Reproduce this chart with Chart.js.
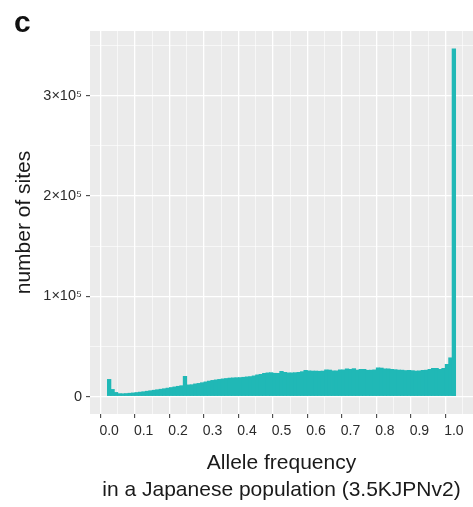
<!DOCTYPE html>
<html>
<head>
<meta charset="utf-8">
<script src="https://cdn.jsdelivr.net/npm/chart.js@4"></script>
<style>
  html, body { margin: 0; padding: 0; background: #fff; }
</style>
</head>
<body>
<canvas id="afChart" width="473" height="507"></canvas>
<script>
// bin centres of the allele-frequency histogram (width 0.01)
const binCenters = [
  0.00, 0.01, 0.02, 0.03, 0.04, 0.05, 0.06, 0.07, 0.08, 0.09,
  0.10, 0.11, 0.12, 0.13, 0.14, 0.15, 0.16, 0.17, 0.18, 0.19,
  0.20, 0.21, 0.22, 0.23, 0.24, 0.25, 0.26, 0.27, 0.28, 0.29,
  0.30, 0.31, 0.32, 0.33, 0.34, 0.35, 0.36, 0.37, 0.38, 0.39,
  0.40, 0.41, 0.42, 0.43, 0.44, 0.45, 0.46, 0.47, 0.48, 0.49,
  0.50, 0.51, 0.52, 0.53, 0.54, 0.55, 0.56, 0.57, 0.58, 0.59,
  0.60, 0.61, 0.62, 0.63, 0.64, 0.65, 0.66, 0.67, 0.68, 0.69,
  0.70, 0.71, 0.72, 0.73, 0.74, 0.75, 0.76, 0.77, 0.78, 0.79,
  0.80, 0.81, 0.82, 0.83, 0.84, 0.85, 0.86, 0.87, 0.88, 0.89,
  0.90, 0.91, 0.92, 0.93, 0.94, 0.95, 0.96, 0.97, 0.98, 0.99,
  1.00
];

// number of sites per bin
const siteCounts = [
  17500, 7500, 4500, 3300, 3200, 3400, 3700, 4000, 4400, 4800,
  5200, 5700, 6200, 6700, 7200, 7700, 8200, 8800, 9400, 10000,
  10600, 11200, 20500, 12000, 12200, 13000, 13500, 14200, 15000, 15800,
  16500, 17000, 17500, 18000, 18400, 18800, 19000, 19200, 19300, 19600,
  20000, 20300, 21000, 22000, 22500, 23500, 24000, 24200, 23600, 23500,
  25500, 24500, 24000, 24000, 24200, 24500, 25200, 26500, 26000, 25800,
  25800, 25600, 25800, 27000, 26800, 26000, 26000, 27000, 27000, 28000,
  27500, 28200, 26800, 27500, 27500, 26600, 26700, 27000, 29000, 28800,
  28000, 28000, 27500, 27200, 26800, 26700, 26300, 26500, 26200, 25800,
  26000, 26500, 26700, 27500, 28500, 28500, 27500, 28500, 32500, 39000,
  347000
];

const xTickValues = [0, 0.05, 0.1, 0.15, 0.2, 0.25, 0.3, 0.35, 0.4, 0.45, 0.5,
  0.55, 0.6, 0.65, 0.7, 0.75, 0.8, 0.85, 0.9, 0.95, 1.0];
const xTickLabels = ["0.0", "", "0.1", "", "0.2", "", "0.3", "", "0.4", "", "0.5",
  "", "0.6", "", "0.7", "", "0.8", "", "0.9", "", "1.0"];

const yTickValues = [0, 50000, 100000, 150000, 200000, 250000, 300000, 350000];
const yTickLabels = ["0", "", "1×10⁵", "", "2×10⁵", "", "3×10⁵", ""];

const barColor = "#20B8B6";
const panelColor = "#EBEBEB";
const fontFamily = "'Liberation Sans', Arial, Helvetica, sans-serif";

function isMajor(list, ctx) {
  if (!ctx.tick) return false;
  const i = list.indexOf(ctx.tick.value);
  return i >= 0 && i % 2 === 0;
}

const panelPlugin = {
  id: "panel",
  beforeDraw(chart) {
    const { ctx, chartArea } = chart;
    ctx.save();
    ctx.fillStyle = "#ffffff";
    ctx.fillRect(0, 0, chart.width, chart.height);
    ctx.fillStyle = panelColor;
    ctx.fillRect(chartArea.left, chartArea.top,
      chartArea.right - chartArea.left, chartArea.bottom - chartArea.top);
    ctx.restore();
  },
  afterDraw(chart) {
    const ctx = chart.ctx;
    ctx.save();
    ctx.fillStyle = "#111";
    ctx.font = "bold 30px " + fontFamily;
    ctx.textBaseline = "alphabetic";
    ctx.fillText("c", 14, 32);
    ctx.restore();
  },
};

const ctx = document.getElementById("afChart").getContext("2d");
new Chart(ctx, {
  type: "bar",
  data: {
    datasets: [
      {
        data: binCenters.map((x, i) => ({ x: x, y: siteCounts[i] })),
        backgroundColor: barColor,
        borderWidth: 0,
        barPercentage: 1.25,
        categoryPercentage: 1,
      },
    ],
  },
  options: {
    responsive: false,
    animation: false,
    devicePixelRatio: 1,
    layout: { padding: { top: 31, right: 0, left: 0, bottom: 0 } },
    plugins: {
      legend: { display: false },
      tooltip: { enabled: false },
    },
    scales: {
      x: {
        type: "linear",
        min: -0.0555,
        max: 1.0555,
        offset: false,
        afterBuildTicks: (s) => {
          s.ticks = xTickValues.map((v) => ({ value: v }));
        },
        afterFit: (s) => {
          s.height = 93;
        },
        ticks: {
          autoSkip: false,
          maxRotation: 0,
          padding: 5,
          color: "#2b2b2b",
          font: { family: fontFamily, size: 14 },
          callback: (v, i) => xTickLabels[i],
        },
        grid: {
          color: "#ffffff",
          lineWidth: (c) => (isMajor(xTickValues, c) ? 1.3 : 0.6),
          tickLength: 4,
          tickWidth: 1,
          tickColor: (c) => (isMajor(xTickValues, c) ? "#333333" : "rgba(0,0,0,0)"),
        },
        border: { display: false },
        title: {
          display: true,
          text: ["Allele frequency", "in a Japanese population (3.5KJPNv2)"],
          color: "#1a1a1a",
          font: { family: fontFamily, size: 21, lineHeight: 1.29 },
          padding: { top: 0, bottom: 3 },
        },
      },
      y: {
        type: "linear",
        min: -17350,
        max: 364350,
        afterBuildTicks: (s) => {
          s.ticks = yTickValues.map((v) => ({ value: v }));
        },
        afterFit: (s) => {
          s.width = 90;
        },
        ticks: {
          autoSkip: false,
          padding: 4,
          color: "#2b2b2b",
          font: { family: fontFamily, size: 14.5 },
          callback: (v, i) => yTickLabels[i],
        },
        grid: {
          color: "#ffffff",
          lineWidth: (c) => (isMajor(yTickValues, c) ? 1.3 : 0.6),
          tickLength: 4,
          tickWidth: 1,
          tickColor: (c) => (isMajor(yTickValues, c) ? "#333333" : "rgba(0,0,0,0)"),
        },
        border: { display: false },
        title: {
          display: true,
          text: "number of sites",
          color: "#1a1a1a",
          font: { family: fontFamily, size: 21 },
          padding: { top: 12, bottom: 0 },
        },
      },
    },
  },
  plugins: [panelPlugin],
});
</script>
</body>
</html>
